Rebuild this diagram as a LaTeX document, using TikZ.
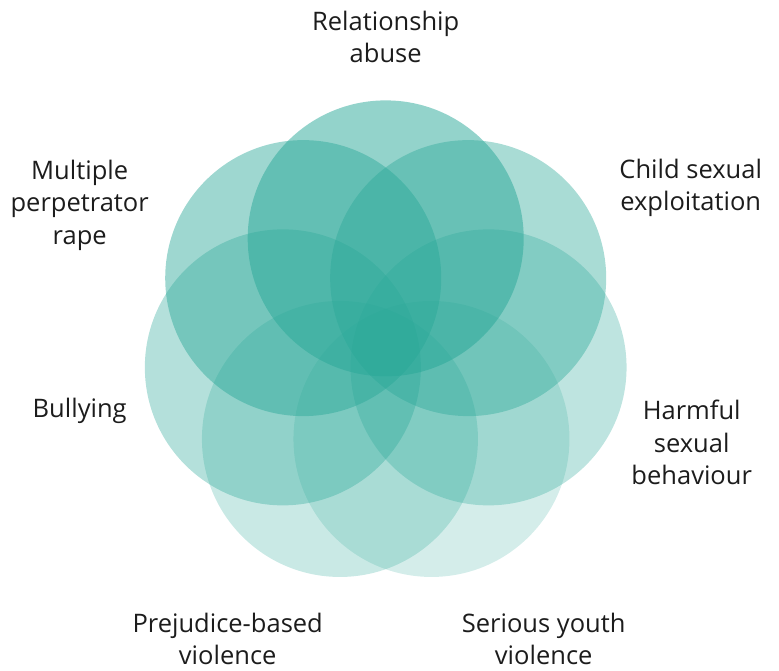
\documentclass[tikz,border=0pt]{standalone}
\usepackage{fontspec}
\setmainfont{Open Sans}
\usepackage{tikz}
\usetikzlibrary{positioning}
\definecolor{venn}{HTML}{28A797}
\definecolor{ink}{HTML}{1C1C1C}
\tikzset{ring/.style={circle,fill=venn,draw=none,minimum size=276pt,inner sep=0pt}}
\tikzset{lbl/.style={align=center,text=ink,font=\fontsize{25.5}{32.5}\selectfont}}

\begin{document}
\begin{tikzpicture}[x=1pt,y=1pt]
        \useasboundingbox (0,0) rectangle (779,671);
        \coordinate(o) at (385.7,327.1);
        % circles
        \node(ra)[ring,fill opacity=.5] at ([shift={(90:105.5)}]o) {};
        \node(cse)[ring,fill opacity=.4] at ([shift={(38.57:105.5)}]o) {};
        \node(hsb)[ring,fill opacity=.3] at ([shift={(-12.86:105.5)}]o) {};
        \node(syv)[ring,fill opacity=.2] at ([shift={(-64.29:105.5)}]o) {};
        \node(pbv)[ring,fill opacity=.25] at ([shift={(-115.71:105.5)}]o) {};
        \node(bul)[ring,fill opacity=.35] at ([shift={(-167.14:105.5)}]o) {};
        \node(mpr)[ring,fill opacity=.45] at ([shift={(141.43:105.5)}]o) {};
        % labels
        \node(raL)[lbl] at ([shift={(0,307)}]o) {Relationship\\abuse};
        \node(cseL)[lbl] at ([shift={(305,156)}]o) {Child sexual\\exploitation};
        \node(hsbL)[lbl] at ([shift={(306,-98.5)}]o) {Harmful\\sexual\\behaviour};
        \node(syvL)[lbl] at ([shift={(158,-295)}]o) {Serious youth\\violence};
        \node(pbvL)[lbl] at ([shift={(-158,-295)}]o) {Prejudice-based\\violence};
        \node(bulL)[lbl] at ([shift={(-306,-67)}]o) {Bullying};
        \node(mprL)[lbl] at ([shift={(-306,139)}]o) {Multiple\\perpetrator\\rape};
      \end{tikzpicture}
\end{document}
